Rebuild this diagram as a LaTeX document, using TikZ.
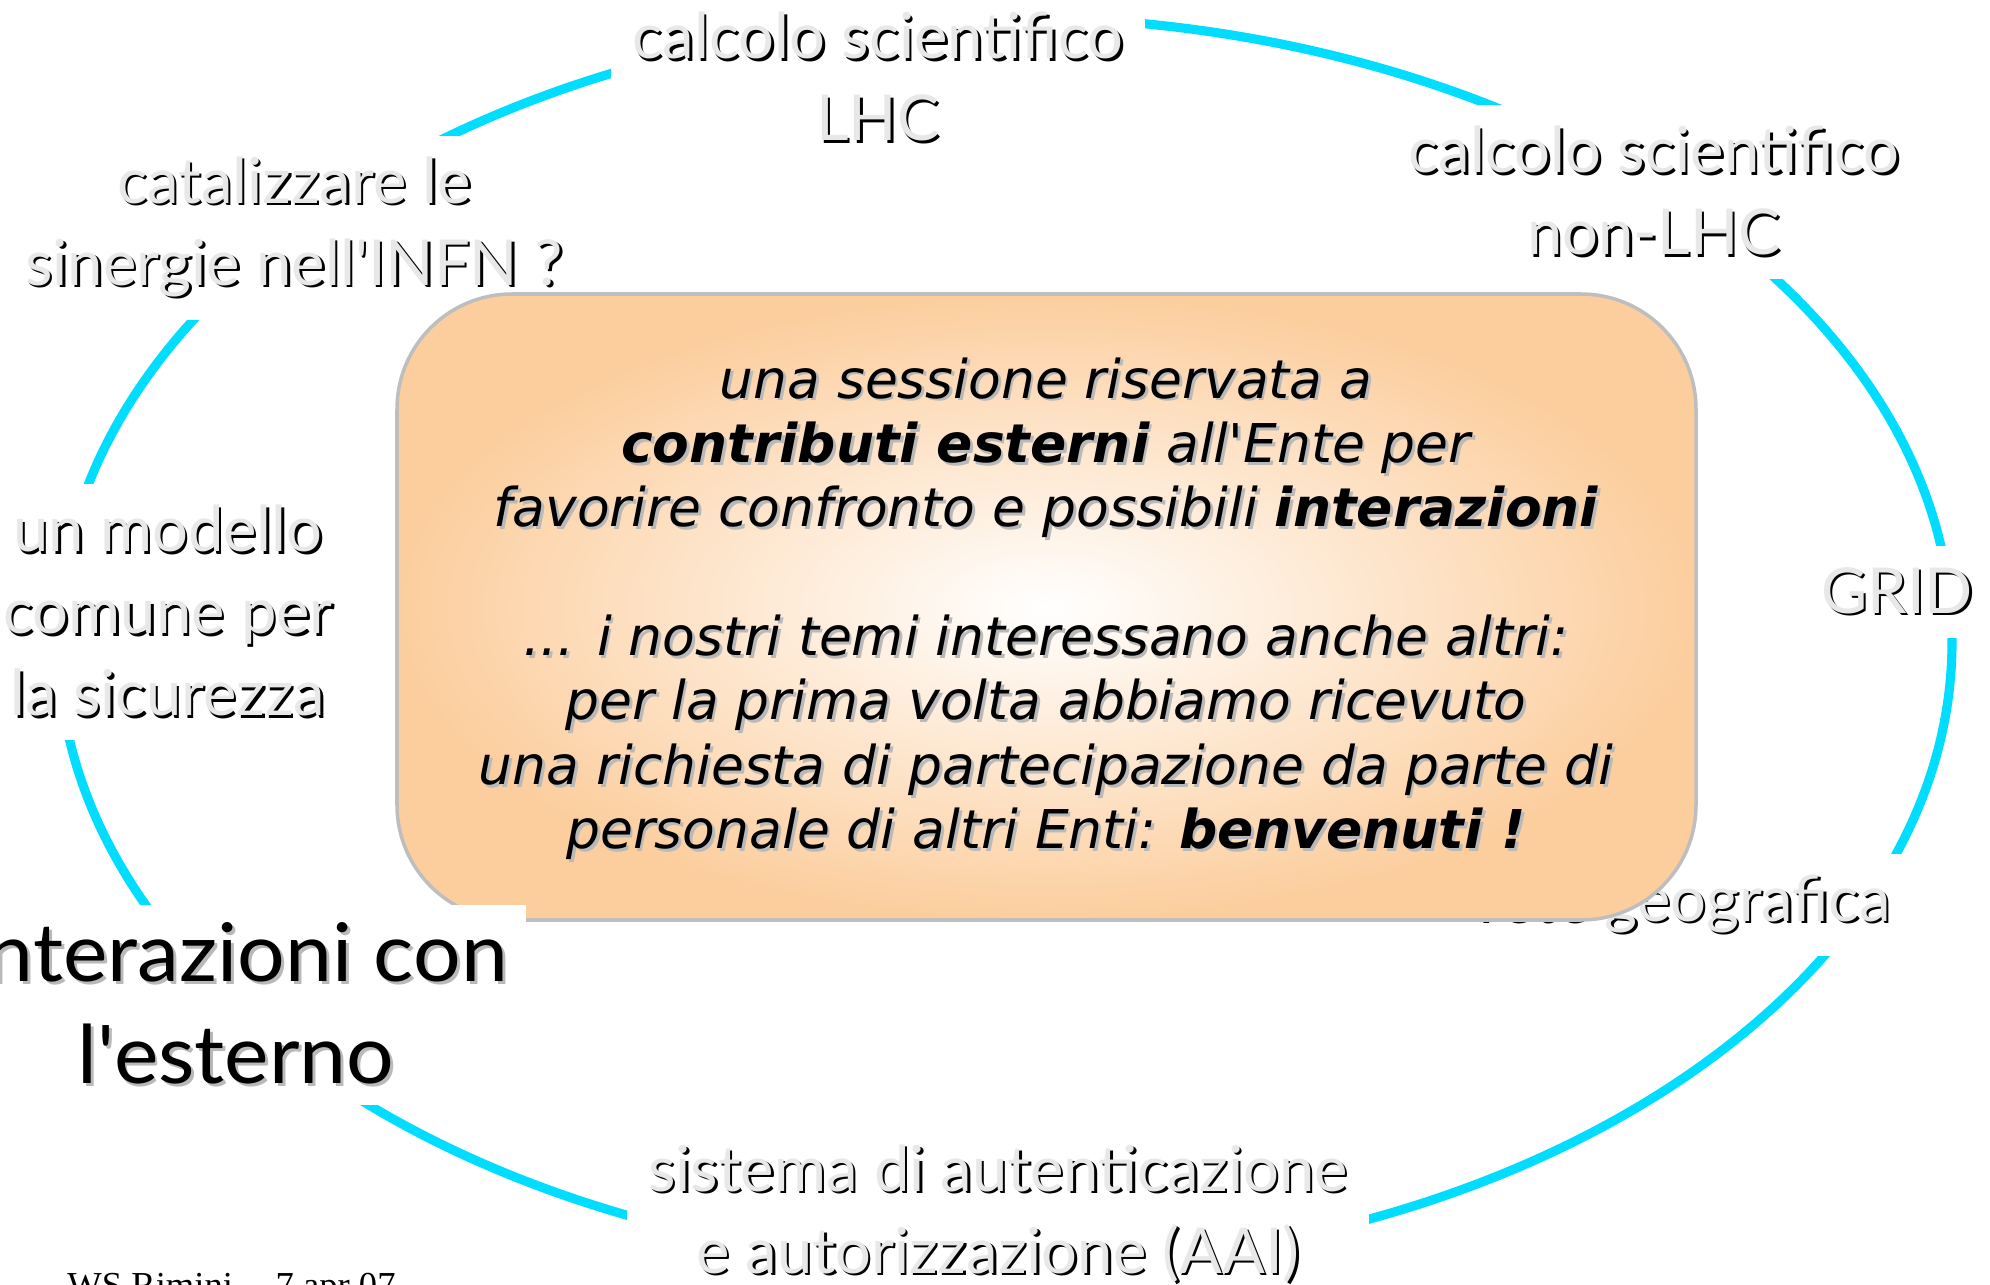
\documentclass[tikz,border=0pt]{standalone}
\usepackage{fontspec}
\setmainfont{DejaVu Sans}
\newfontfamily\comicfont{Lato}
\newfontfamily\titlefont[FakeStretch=1.04]{Lato}
\newfontfamily\boxfont{DejaVu Sans}
\newfontfamily\footfont{Liberation Serif}
\definecolor{arccyan}{RGB}{0,221,255}
\definecolor{boxorange}{RGB}{252,206,158}
\definecolor{boxline}{RGB}{190,190,190}
\definecolor{embgray}{RGB}{232,232,232}
\definecolor{shdgray}{RGB}{185,185,185}
\def\emb#1{\leavevmode\rlap{\kern0.7pt\raisebox{-0.7pt}{\color{black}#1}}{\color{embgray}#1}}
\def\shd#1{\leavevmode\rlap{\kern0.8pt\raisebox{-0.8pt}{\color{shdgray}#1}}#1}
\def\apo{\textquotesingle}

\begin{document}
\begin{tikzpicture}[x=0.01cm, y=-0.01cm,
	topic/.style={fill=white, align=center, inner sep=6pt, font=\comicfont\fontsize{18}{23.3}\selectfont},
	title/.style={fill=white, align=center, inner sep=5pt, font=\titlefont\fontsize{23}{29}\selectfont},
	msg/.style={align=center, font=\boxfont\itshape\fontsize{15.2}{18.3}\selectfont}]
	%%%%% START %%%%%
	\useasboundingbox (0,0) rectangle (1990,1285);
	
	\draw[color=arccyan, line width=2.6pt] (1005,642) ellipse [x radius=947, y radius=625];
	
	\node[topic] (lhc) at (878,78) {\emb{calcolo scientifico}\\\emb{LHC}};
	\node[topic] (nonlhc) at (1654,192) {\emb{calcolo scientifico}\\\emb{non-LHC}};
	\node[topic] (grid) at (1897,592) {\emb{GRID}};
	\node[topic] (rete) at (1684,905) {\emb{rete geografica}};
	\node[topic] (aai) at (998,1215) {\emb{sistema di autenticazione}\\\emb{e autorizzazione (AAI)}};
	\node[topic] (modello) at (168,612) {\emb{un modello}\\\emb{comune per}\\\emb{la sicurezza}};
	\node[topic] (sinergie) at (294,228) {\emb{catalizzare le}\\\emb{sinergie nell\apo INFN ?}};
	
	\draw[color=boxline, line width=1pt, rounded corners=1.15cm, inner color=white, outer color=boxorange] (397,294) rectangle (1696,920);
	\node[msg] (testo) at (1046,610) {\shd{una sessione riservata a}\\
		\shd{\textbf{contributi esterni} all\apo Ente per}\\
		\shd{favorire confronto e possibili \textbf{interazioni}}\\[18.3pt]
		\shd{... i nostri temi interessano anche altri:}\\
		\shd{per la prima volta abbiamo ricevuto}\\
		\shd{una richiesta di partecipazione da parte di}\\
		\shd{personale di altri Enti: \textbf{benvenuti !}}};
	
	\node[title] (esterno) at (236,1005) {\shd{Interazioni con}\\\shd{l\apo esterno}};
	
	\node[anchor=base west, font=\footfont\fontsize{10.4}{12}\selectfont] (piede) at (55,1297) {WS Rimini -- 7 apr 07};
	
	%%%%% END %%%%%
\end{tikzpicture}
\end{document}
